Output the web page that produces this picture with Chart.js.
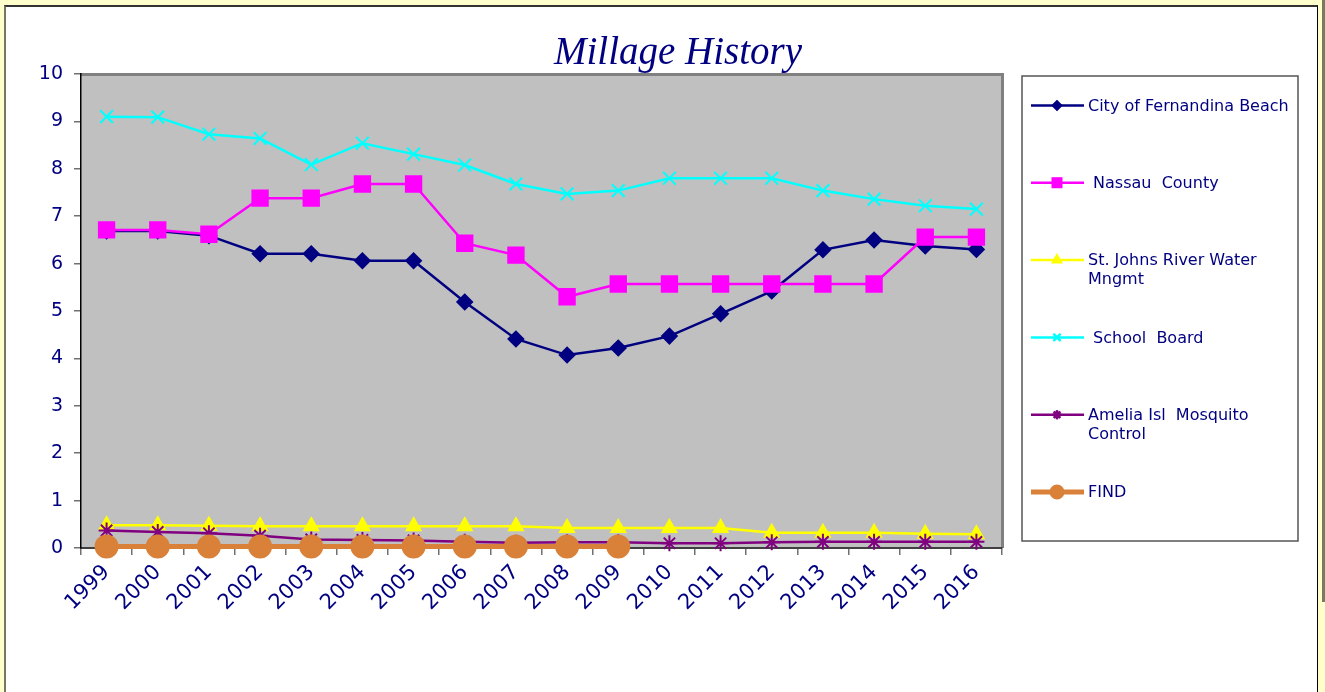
<!DOCTYPE html>
<html>
<head>
<meta charset="utf-8">
<title>Millage History</title>
<script src="https://cdn.jsdelivr.net/npm/chart.js@4.4.1/dist/chart.umd.min.js"></script>
<style>
    html, body { margin: 0; padding: 0; }
    body { width: 1325px; height: 692px; background: #ffffcc; position: relative; overflow: hidden; }
    #frame { position: absolute; left: 4px; top: 5px; width: 1311px; height: 700px; background: #fff;
             border-top: 2px solid #333; border-left: 2px solid #777766; border-right: 1px solid #000; }
    #edge { position: absolute; left: 1322px; top: 0; width: 3px; height: 602px; background: #7a7a60; }
    #wrap { position: absolute; left: 0; top: 0; width: 1325px; height: 692px; }
</style>
</head>
<body>
<div id="frame"></div>
<div id="edge"></div>
<div id="wrap"><canvas id="millageChart"></canvas></div>
<script>
var years = ['1999', '2000', '2001', '2002', '2003', '2004', '2005', '2006', '2007', '2008',
             '2009', '2010', '2011', '2012', '2013', '2014', '2015', '2016'];

var cityFernandina = [6.69, 6.69, 6.59, 6.21, 6.21, 6.06, 6.06, 5.19, 4.41, 4.07,
                      4.22, 4.47, 4.94, 5.42, 6.29, 6.50, 6.37, 6.30];
var nassauCounty = [6.71, 6.71, 6.62, 7.38, 7.38, 7.68, 7.68, 6.43, 6.18, 5.30,
                    5.57, 5.57, 5.57, 5.57, 5.57, 5.57, 6.56, 6.56];
var stJohnsWater = [0.48, 0.48, 0.47, 0.46, 0.46, 0.46, 0.46, 0.46, 0.46, 0.42,
                    0.42, 0.42, 0.42, 0.32, 0.32, 0.32, 0.30, 0.29];
var schoolBoard = [9.10, 9.09, 8.73, 8.64, 8.09, 8.54, 8.31, 8.08, 7.68, 7.47,
                   7.54, 7.80, 7.80, 7.80, 7.54, 7.36, 7.22, 7.15];
var ameliaMosquito = [0.37, 0.34, 0.31, 0.26, 0.18, 0.17, 0.16, 0.13, 0.11, 0.12,
                      0.12, 0.10, 0.10, 0.12, 0.13, 0.13, 0.13, 0.13];
var findValues = [0.03, 0.03, 0.03, 0.03, 0.03, 0.03, 0.03, 0.03, 0.03, 0.03,
                  0.03, null, null, null, null, null, null, null];

var yTicks = [0, 1, 2, 3, 4, 5, 6, 7, 8, 9, 10];

var navy = '#000080';

// plot background + grey frame like the old Excel chart
var plotArea = {
    id: 'plotArea',
    beforeDraw: function (chart) {
        var a = chart.chartArea;
        var ctx = chart.ctx;
        ctx.save();
        ctx.fillStyle = '#c0c0c0';
        ctx.fillRect(a.left, a.top, a.right - a.left, a.bottom - a.top);
        ctx.strokeStyle = '#808080';
        ctx.lineWidth = 3;
        ctx.beginPath();
        ctx.moveTo(a.left, a.top + 0.5);
        ctx.lineTo(a.right + 0.5, a.top + 0.5);
        ctx.lineTo(a.right + 0.5, a.bottom);
        ctx.stroke();
        ctx.restore();
    }
};

var titleText = {
    id: 'titleText',
    afterDraw: function (chart) {
        var ctx = chart.ctx;
        ctx.save();
        ctx.font = 'italic 39px "Liberation Serif", serif';
        ctx.fillStyle = navy;
        ctx.textAlign = 'center';
        ctx.textBaseline = 'alphabetic';
        ctx.fillText('Millage History', 678, 64);
        ctx.restore();
    }
};

// boxed legend on the right, rows spaced out like the original
var boxLegend = {
    id: 'boxLegend',
    afterDraw: function (chart) {
        var ctx = chart.ctx;
        var left = 1022, top = 76, right = 1298, bottom = 541;
        ctx.save();
        ctx.fillStyle = '#fff';
        ctx.fillRect(left, top, right - left, bottom - top);
        ctx.strokeStyle = '#555';
        ctx.lineWidth = 1.5;
        ctx.strokeRect(left, top, right - left, bottom - top);

        ctx.font = '16px "DejaVu Sans", Verdana, sans-serif';
        ctx.textBaseline = 'middle';
        ctx.textAlign = 'left';
        chart.data.datasets.forEach(function (ds, i) {
            var y = top + 29.5 + i * 77.3;
            ctx.strokeStyle = ds.borderColor;
            ctx.lineWidth = ds.borderWidth;
            ctx.beginPath();
            ctx.moveTo(1031, y);
            ctx.lineTo(1084, y);
            ctx.stroke();
            Chart.helpers.drawPoint(ctx, {
                pointStyle: ds.pointStyle,
                radius: ds.legendRadius,
                rotation: 0,
                borderWidth: 1.5
            }, 1057, y);
            ctx.fillStyle = ds.pointBackgroundColor;
            ctx.strokeStyle = ds.pointBorderColor;
            ctx.lineWidth = 1.5;
            ctx.fill();
            ctx.stroke();
            ctx.fillStyle = navy;
            ds.label.split('\n').forEach(function (line, j) {
                ctx.fillText(line, 1088, y + 1 + j * 19);
            });
        });
        ctx.restore();
    }
};

var ctx = document.getElementById('millageChart').getContext('2d');

var data = {
    labels: years,
    datasets: [
        {
            label: 'City of Fernandina Beach',
            data: cityFernandina,
            borderColor: navy,
            backgroundColor: navy,
            pointBackgroundColor: navy,
            pointBorderColor: navy,
            borderWidth: 2.5,
            pointStyle: 'rectRot',
            pointRadius: 7,
            legendRadius: 4,
            order: 6
        },
        {
            label: ' Nassau  County',
            data: nassauCounty,
            borderColor: '#ff00ff',
            backgroundColor: '#ff00ff',
            pointBackgroundColor: '#ff00ff',
            pointBorderColor: '#ff00ff',
            borderWidth: 2.5,
            pointStyle: 'rect',
            pointRadius: 10.5,
            legendRadius: 6,
            order: 5
        },
        {
            label: 'St. Johns River Water\nMngmt',
            data: stJohnsWater,
            borderColor: '#ffff00',
            backgroundColor: '#ffff00',
            pointBackgroundColor: '#ffff00',
            pointBorderColor: '#ffff00',
            borderWidth: 2.5,
            pointStyle: 'triangle',
            pointRadius: 7.5,
            legendRadius: 4.5,
            order: 4
        },
        {
            label: ' School  Board',
            data: schoolBoard,
            borderColor: '#00ffff',
            backgroundColor: '#00ffff',
            pointBackgroundColor: '#00ffff',
            pointBorderColor: '#00ffff',
            borderWidth: 2.5,
            pointBorderWidth: 2,
            pointStyle: 'crossRot',
            pointRadius: 9,
            legendRadius: 5,
            order: 3
        },
        {
            label: 'Amelia Isl  Mosquito\nControl',
            data: ameliaMosquito,
            borderColor: '#800080',
            backgroundColor: '#800080',
            pointBackgroundColor: '#800080',
            pointBorderColor: '#800080',
            borderWidth: 2.5,
            pointBorderWidth: 2,
            pointStyle: 'star',
            pointRadius: 8,
            legendRadius: 4.5,
            order: 2
        },
        {
            label: 'FIND',
            data: findValues,
            borderColor: '#d98139',
            backgroundColor: '#d98139',
            pointBackgroundColor: '#d98139',
            pointBorderColor: '#d98139',
            borderWidth: 5,
            pointStyle: 'circle',
            pointRadius: 9.5,
            legendRadius: 5,
            order: 1
        }
    ]
};

var options = {
    responsive: false,
    animation: false,
    layout: {
        padding: { top: 74, right: 323, bottom: 0, left: 0 }
    },
    plugins: {
        legend: { display: false },
        title: { display: false },
        tooltip: { enabled: false }
    },
    datasets: {
        line: { clip: false }
    },
    elements: {
        line: { tension: 0, spanGaps: false }
    },
    scales: {
        x: {
            offset: true,
            afterFit: function (scale) { scale.height = 144; },
            grid: {
                offset: true,
                drawOnChartArea: false,
                drawTicks: true,
                tickLength: 7,
                color: '#707070',
                lineWidth: 1.5
            },
            border: { display: true, color: '#404040', width: 2 },
            ticks: {
                autoSkip: false,
                minRotation: 45,
                maxRotation: 45,
                padding: 5,
                color: navy,
                font: { family: '"DejaVu Sans", Verdana, sans-serif', size: 21 }
            }
        },
        y: {
            min: 0,
            max: 10,
            afterFit: function (scale) { scale.width = 81; },
            afterBuildTicks: function (scale) {
                scale.ticks = yTicks.map(function (v) { return { value: v }; });
            },
            grid: {
                drawOnChartArea: false,
                drawTicks: true,
                tickLength: 7,
                color: '#707070',
                lineWidth: 1.5
            },
            border: { display: true, color: '#000', width: 1.5 },
            ticks: {
                padding: 11,
                color: navy,
                font: { family: '"DejaVu Sans", Verdana, sans-serif', size: 19 }
            }
        }
    }
};

var config = {
    type: 'line',
    data: data,
    options: options,
    plugins: [plotArea, titleText, boxLegend]
};

var canvas = document.getElementById('millageChart');
canvas.width = 1325;
canvas.height = 692;
var myChart = new Chart(ctx, config);
</script>
</body>
</html>
